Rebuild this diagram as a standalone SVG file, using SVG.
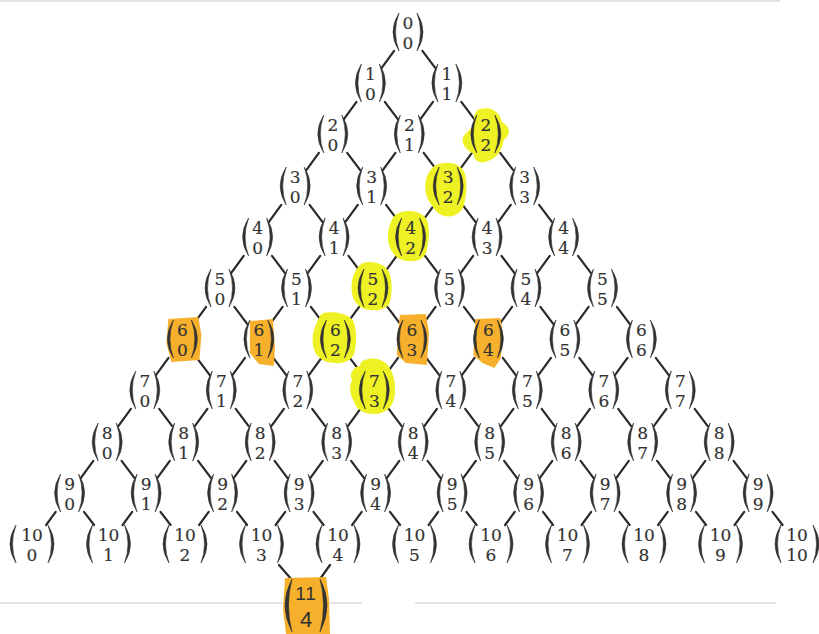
<svg xmlns="http://www.w3.org/2000/svg" width="819" height="634" viewBox="0 0 819 634">
<style>
.p{fill:#333;stroke:#333;stroke-width:0.6}
.d{font-family:"DejaVu Serif","Liberation Serif",serif;font-size:17px;fill:#333;stroke:#333;stroke-width:0.15;text-anchor:middle}
.t{transform:translateY(-3.5px)}
.b{transform:translateY(16.5px)}
.h{font-family:"Liberation Sans","DejaVu Sans",sans-serif;fill:#333;text-anchor:middle}
.e{stroke:#2a2a2a;stroke-width:2.2;stroke-linecap:round;fill:none}
.y{fill:#eef224}
.o{fill:#f6b02c}
.s{stroke:#d9d9d9;stroke-width:1.5}
</style>
<defs>
<g id="p1"><path class="p" d="M-9,-19 Q-21,0 -9,19 Q-16,0 -9,-19 Z"/><path class="p" d="M9,-19 Q21,0 9,19 Q16,0 9,-19 Z"/></g>
<g id="p2"><path class="p" d="M-16,-19 Q-28,0 -16,19 Q-23,0 -16,-19 Z"/><path class="p" d="M16,-19 Q28,0 16,19 Q23,0 16,-19 Z"/></g>
<path id="L" class="e" d="M-13.9,18.9 L-26.3,35.8"/>
<path id="R" class="e" d="M14.4,18.9 L27.2,35.8"/>
<path id="L9" class="e" d="M-13.9,18.9 L-23.5,32"/>
<path id="R9" class="e" d="M14.4,18.9 L24.5,32"/>
</defs>
<rect width="819" height="634" fill="#ffffff"/>
<line class="s" x1="0" y1="603" x2="362" y2="603"/>
<line class="s" x1="415" y1="603" x2="776" y2="603"/>
<line class="s" x1="0" y1="1" x2="780" y2="1"/>

<g id="connectors">
<use href="#L" x="408" y="32"/><use href="#R" x="408" y="32"/>
<use href="#L" x="370.4" y="83"/><use href="#R" x="370.4" y="83"/>
<use href="#L" x="446.9" y="83"/><use href="#R" x="446.9" y="83"/>
<use href="#L" x="332.8" y="134"/><use href="#R" x="332.8" y="134"/>
<use href="#L" x="409.3" y="134"/><use href="#R" x="409.3" y="134"/>
<use href="#L" x="485.8" y="134"/><use href="#R" x="485.8" y="134"/>
<use href="#L" x="295.2" y="186"/><use href="#R" x="295.2" y="186"/>
<use href="#L" x="371.7" y="186"/><use href="#R" x="371.7" y="186"/>
<use href="#L" x="448.2" y="186"/><use href="#R" x="448.2" y="186"/>
<use href="#L" x="524.7" y="186"/><use href="#R" x="524.7" y="186"/>
<use href="#L" x="257.6" y="237"/><use href="#R" x="257.6" y="237"/>
<use href="#L" x="334.1" y="237"/><use href="#R" x="334.1" y="237"/>
<use href="#L" x="410.6" y="237"/><use href="#R" x="410.6" y="237"/>
<use href="#L" x="487.1" y="237"/><use href="#R" x="487.1" y="237"/>
<use href="#L" x="563.6" y="237"/><use href="#R" x="563.6" y="237"/>
<use href="#L" x="220" y="288"/><use href="#R" x="220" y="288"/>
<use href="#L" x="296.5" y="288"/><use href="#R" x="296.5" y="288"/>
<use href="#L" x="373" y="288"/><use href="#R" x="373" y="288"/>
<use href="#L" x="449.5" y="288"/><use href="#R" x="449.5" y="288"/>
<use href="#L" x="526" y="288"/><use href="#R" x="526" y="288"/>
<use href="#L" x="602.5" y="288"/><use href="#R" x="602.5" y="288"/>
<use href="#L" x="182.4" y="339"/><use href="#R" x="182.4" y="339"/>
<use href="#L" x="258.9" y="339"/><use href="#R" x="258.9" y="339"/>
<use href="#L" x="335.4" y="339"/><use href="#R" x="335.4" y="339"/>
<use href="#L" x="411.9" y="339"/><use href="#R" x="411.9" y="339"/>
<use href="#L" x="488.4" y="339"/><use href="#R" x="488.4" y="339"/>
<use href="#L" x="564.9" y="339"/><use href="#R" x="564.9" y="339"/>
<use href="#L" x="641.4" y="339"/><use href="#R" x="641.4" y="339"/>
<use href="#L" x="144.8" y="390"/><use href="#R" x="144.8" y="390"/>
<use href="#L" x="221.3" y="390"/><use href="#R" x="221.3" y="390"/>
<use href="#L" x="297.8" y="390"/><use href="#R" x="297.8" y="390"/>
<use href="#L" x="374.3" y="390"/><use href="#R" x="374.3" y="390"/>
<use href="#L" x="450.8" y="390"/><use href="#R" x="450.8" y="390"/>
<use href="#L" x="527.3" y="390"/><use href="#R" x="527.3" y="390"/>
<use href="#L" x="603.8" y="390"/><use href="#R" x="603.8" y="390"/>
<use href="#L" x="680.3" y="390"/><use href="#R" x="680.3" y="390"/>
<use href="#L" x="107.2" y="442"/><use href="#R" x="107.2" y="442"/>
<use href="#L" x="183.7" y="442"/><use href="#R" x="183.7" y="442"/>
<use href="#L" x="260.2" y="442"/><use href="#R" x="260.2" y="442"/>
<use href="#L" x="336.7" y="442"/><use href="#R" x="336.7" y="442"/>
<use href="#L" x="413.2" y="442"/><use href="#R" x="413.2" y="442"/>
<use href="#L" x="489.7" y="442"/><use href="#R" x="489.7" y="442"/>
<use href="#L" x="566.2" y="442"/><use href="#R" x="566.2" y="442"/>
<use href="#L" x="642.7" y="442"/><use href="#R" x="642.7" y="442"/>
<use href="#L" x="719.2" y="442"/><use href="#R" x="719.2" y="442"/>
<use href="#L9" x="69.6" y="493"/><use href="#R9" x="69.6" y="493"/>
<use href="#L9" x="146.1" y="493"/><use href="#R9" x="146.1" y="493"/>
<use href="#L9" x="222.6" y="493"/><use href="#R9" x="222.6" y="493"/>
<use href="#L9" x="299.1" y="493"/><use href="#R9" x="299.1" y="493"/>
<use href="#L9" x="375.6" y="493"/><use href="#R9" x="375.6" y="493"/>
<use href="#L9" x="452.1" y="493"/><use href="#R9" x="452.1" y="493"/>
<use href="#L9" x="528.6" y="493"/><use href="#R9" x="528.6" y="493"/>
<use href="#L9" x="605.1" y="493"/><use href="#R9" x="605.1" y="493"/>
<use href="#L9" x="681.6" y="493"/><use href="#R9" x="681.6" y="493"/>
<use href="#L9" x="758.1" y="493"/><use href="#R9" x="758.1" y="493"/>
<line class="e" x1="279" y1="565" x2="292" y2="580"/>
<line class="e" x1="330" y1="565" x2="320" y2="579"/>
</g>

<g id="b0_0" transform="translate(408,32)"><use href="#p1"/><text class="d" y="-3.5">0</text><text class="d" y="16.5">0</text></g>

<g id="b1_0" transform="translate(370.4,83)"><use href="#p1"/><text class="d" y="-3.5">1</text><text class="d" y="16.5">0</text></g>
<g id="b1_1" transform="translate(446.9,83)"><use href="#p1"/><text class="d" y="-3.5">1</text><text class="d" y="16.5">1</text></g>

<g id="b2_0" transform="translate(332.8,134)"><use href="#p1"/><text class="d" y="-3.5">2</text><text class="d" y="16.5">0</text></g>
<g id="b2_1" transform="translate(409.3,134)"><use href="#p1"/><text class="d" y="-3.5">2</text><text class="d" y="16.5">1</text></g>
<g id="b2_2" transform="translate(485.8,134)"><path class="y" d="M-6,-25 C6,-28 14,-22 16,-12 C24,-8 26,0 18,6 C16,16 12,24 2,27 C-4,30 -12,28 -12,20 C-20,16 -26,8 -22,2 C-18,-4 -12,-6 -12,-12 C-12,-20 -10,-24 -6,-25 Z"/><use href="#p1"/><text class="d" y="-3.5">2</text><text class="d" y="16.5">2</text></g>

<g id="b3_0" transform="translate(295.2,186)"><use href="#p1"/><text class="d" y="-3.5">3</text><text class="d" y="16.5">0</text></g>
<g id="b3_1" transform="translate(371.7,186)"><use href="#p1"/><text class="d" y="-3.5">3</text><text class="d" y="16.5">1</text></g>
<g id="b3_2" transform="translate(448.2,186)"><path class="y" d="M-14,-20 C-4,-26 12,-24 16,-14 C20,-4 18,10 16,18 C14,28 4,32 -4,30 C-12,28 -16,20 -20,14 C-24,6 -24,-6 -20,-12 C-18,-16 -16,-18 -14,-20 Z"/><use href="#p1"/><text class="d" y="-3.5">3</text><text class="d" y="16.5">2</text></g>
<g id="b3_3" transform="translate(524.7,186)"><use href="#p1"/><text class="d" y="-3.5">3</text><text class="d" y="16.5">3</text></g>

<g id="b4_0" transform="translate(257.6,237)"><use href="#p1"/><text class="d" y="-3.5">4</text><text class="d" y="16.5">0</text></g>
<g id="b4_1" transform="translate(334.1,237)"><use href="#p1"/><text class="d" y="-3.5">4</text><text class="d" y="16.5">1</text></g>
<g id="b4_2" transform="translate(410.6,237)"><path class="y" d="M-12,-24 C-2,-28 10,-26 16,-18 C20,-8 18,6 16,14 C14,22 6,25 -2,24 C-10,24 -16,20 -20,12 C-24,4 -23,-8 -20,-14 C-18,-20 -16,-22 -12,-24 Z"/><use href="#p1"/><text class="d" y="-3.5">4</text><text class="d" y="16.5">2</text></g>
<g id="b4_3" transform="translate(487.1,237)"><use href="#p1"/><text class="d" y="-3.5">4</text><text class="d" y="16.5">3</text></g>
<g id="b4_4" transform="translate(563.6,237)"><use href="#p1"/><text class="d" y="-3.5">4</text><text class="d" y="16.5">4</text></g>

<g id="b5_0" transform="translate(220,288)"><use href="#p1"/><text class="d" y="-3.5">5</text><text class="d" y="16.5">0</text></g>
<g id="b5_1" transform="translate(296.5,288)"><use href="#p1"/><text class="d" y="-3.5">5</text><text class="d" y="16.5">1</text></g>
<g id="b5_2" transform="translate(373,288)"><path class="y" d="M-10,-25 C0,-28 12,-24 16,-16 C20,-6 19,6 17,14 C14,21 6,23 -2,22 C-10,22 -16,18 -20,10 C-22,2 -22,-8 -19,-14 C-16,-20 -14,-23 -10,-25 Z"/><use href="#p1"/><text class="d" y="-3.5">5</text><text class="d" y="16.5">2</text></g>
<g id="b5_3" transform="translate(449.5,288)"><use href="#p1"/><text class="d" y="-3.5">5</text><text class="d" y="16.5">3</text></g>
<g id="b5_4" transform="translate(526,288)"><use href="#p1"/><text class="d" y="-3.5">5</text><text class="d" y="16.5">4</text></g>
<g id="b5_5" transform="translate(602.5,288)"><use href="#p1"/><text class="d" y="-3.5">5</text><text class="d" y="16.5">5</text></g>

<g id="b6_0" transform="translate(182.4,339)"><path class="o" d="M-14,-20 L16,-22 L19,-4 L17,21 L-11,23 L-16,4 Z"/><use href="#p1"/><text class="d" y="-3.5">6</text><text class="d" y="16.5">0</text></g>
<g id="b6_1" transform="translate(258.9,339)"><path class="o" d="M-9,-18 L14,-20 L16,8 L15,27 L0,25 L-9,14 Z"/><use href="#p1"/><text class="d" y="-3.5">6</text><text class="d" y="16.5">1</text></g>
<g id="b6_2" transform="translate(335.4,339)"><path class="y" d="M-12,-26 C-2,-28 12,-26 18,-18 C22,-8 21,6 19,14 C16,22 8,25 0,24 C-10,24 -16,20 -20,14 C-23,8 -24,-2 -21,-10 C-18,-18 -16,-24 -12,-26 Z"/><use href="#p1"/><text class="d" y="-3.5">6</text><text class="d" y="16.5">2</text></g>
<g id="b6_3" transform="translate(411.9,339)"><path class="o" d="M-12,-24 L14,-25 L17,-6 L15,26 L-6,24 L-15,16 L-14,-6 Z"/><use href="#p1"/><text class="d" y="-3.5">6</text><text class="d" y="16.5">3</text></g>
<g id="b6_4" transform="translate(488.4,339)"><path class="o" d="M-13,-20 L12,-21 L15,-2 L12,20 L6,29 L-6,24 L-15,16 L-14,-4 Z"/><use href="#p1"/><text class="d" y="-3.5">6</text><text class="d" y="16.5">4</text></g>
<g id="b6_5" transform="translate(564.9,339)"><use href="#p1"/><text class="d" y="-3.5">6</text><text class="d" y="16.5">5</text></g>
<g id="b6_6" transform="translate(641.4,339)"><use href="#p1"/><text class="d" y="-3.5">6</text><text class="d" y="16.5">6</text></g>

<g id="b7_0" transform="translate(144.8,390)"><use href="#p1"/><text class="d" y="-3.5">7</text><text class="d" y="16.5">0</text></g>
<g id="b7_1" transform="translate(221.3,390)"><use href="#p1"/><text class="d" y="-3.5">7</text><text class="d" y="16.5">1</text></g>
<g id="b7_2" transform="translate(297.8,390)"><use href="#p1"/><text class="d" y="-3.5">7</text><text class="d" y="16.5">2</text></g>
<g id="b7_3" transform="translate(374.3,390)"><path class="y" d="M-10,-30 C0,-34 10,-30 14,-24 C20,-16 22,-4 20,8 C18,18 10,24 0,24 C-10,24 -18,20 -20,12 C-24,6 -26,-4 -22,-10 C-26,-16 -20,-24 -14,-24 C-14,-28 -12,-29 -10,-30 Z"/><use href="#p1"/><text class="d" y="-3.5">7</text><text class="d" y="16.5">3</text></g>
<g id="b7_4" transform="translate(450.8,390)"><use href="#p1"/><text class="d" y="-3.5">7</text><text class="d" y="16.5">4</text></g>
<g id="b7_5" transform="translate(527.3,390)"><use href="#p1"/><text class="d" y="-3.5">7</text><text class="d" y="16.5">5</text></g>
<g id="b7_6" transform="translate(603.8,390)"><use href="#p1"/><text class="d" y="-3.5">7</text><text class="d" y="16.5">6</text></g>
<g id="b7_7" transform="translate(680.3,390)"><use href="#p1"/><text class="d" y="-3.5">7</text><text class="d" y="16.5">7</text></g>

<g id="b8_0" transform="translate(107.2,442)"><use href="#p1"/><text class="d" y="-3.5">8</text><text class="d" y="16.5">0</text></g>
<g id="b8_1" transform="translate(183.7,442)"><use href="#p1"/><text class="d" y="-3.5">8</text><text class="d" y="16.5">1</text></g>
<g id="b8_2" transform="translate(260.2,442)"><use href="#p1"/><text class="d" y="-3.5">8</text><text class="d" y="16.5">2</text></g>
<g id="b8_3" transform="translate(336.7,442)"><use href="#p1"/><text class="d" y="-3.5">8</text><text class="d" y="16.5">3</text></g>
<g id="b8_4" transform="translate(413.2,442)"><use href="#p1"/><text class="d" y="-3.5">8</text><text class="d" y="16.5">4</text></g>
<g id="b8_5" transform="translate(489.7,442)"><use href="#p1"/><text class="d" y="-3.5">8</text><text class="d" y="16.5">5</text></g>
<g id="b8_6" transform="translate(566.2,442)"><use href="#p1"/><text class="d" y="-3.5">8</text><text class="d" y="16.5">6</text></g>
<g id="b8_7" transform="translate(642.7,442)"><use href="#p1"/><text class="d" y="-3.5">8</text><text class="d" y="16.5">7</text></g>
<g id="b8_8" transform="translate(719.2,442)"><use href="#p1"/><text class="d" y="-3.5">8</text><text class="d" y="16.5">8</text></g>

<g id="b9_0" transform="translate(69.6,493)"><use href="#p1"/><text class="d" y="-3.5">9</text><text class="d" y="16.5">0</text></g>
<g id="b9_1" transform="translate(146.1,493)"><use href="#p1"/><text class="d" y="-3.5">9</text><text class="d" y="16.5">1</text></g>
<g id="b9_2" transform="translate(222.6,493)"><use href="#p1"/><text class="d" y="-3.5">9</text><text class="d" y="16.5">2</text></g>
<g id="b9_3" transform="translate(299.1,493)"><use href="#p1"/><text class="d" y="-3.5">9</text><text class="d" y="16.5">3</text></g>
<g id="b9_4" transform="translate(375.6,493)"><use href="#p1"/><text class="d" y="-3.5">9</text><text class="d" y="16.5">4</text></g>
<g id="b9_5" transform="translate(452.1,493)"><use href="#p1"/><text class="d" y="-3.5">9</text><text class="d" y="16.5">5</text></g>
<g id="b9_6" transform="translate(528.6,493)"><use href="#p1"/><text class="d" y="-3.5">9</text><text class="d" y="16.5">6</text></g>
<g id="b9_7" transform="translate(605.1,493)"><use href="#p1"/><text class="d" y="-3.5">9</text><text class="d" y="16.5">7</text></g>
<g id="b9_8" transform="translate(681.6,493)"><use href="#p1"/><text class="d" y="-3.5">9</text><text class="d" y="16.5">8</text></g>
<g id="b9_9" transform="translate(758.1,493)"><use href="#p1"/><text class="d" y="-3.5">9</text><text class="d" y="16.5">9</text></g>

<g id="b10_0" transform="translate(32,544)"><use href="#p2"/><text class="d" y="-3.5">10</text><text class="d" y="16.5">0</text></g>
<g id="b10_1" transform="translate(108.5,544)"><use href="#p2"/><text class="d" y="-3.5">10</text><text class="d" y="16.5">1</text></g>
<g id="b10_2" transform="translate(185,544)"><use href="#p2"/><text class="d" y="-3.5">10</text><text class="d" y="16.5">2</text></g>
<g id="b10_3" transform="translate(261.5,544)"><use href="#p2"/><text class="d" y="-3.5">10</text><text class="d" y="16.5">3</text></g>
<g id="b10_4" transform="translate(338,544)"><use href="#p2"/><text class="d" y="-3.5">10</text><text class="d" y="16.5">4</text></g>
<g id="b10_5" transform="translate(414.5,544)"><use href="#p2"/><text class="d" y="-3.5">10</text><text class="d" y="16.5">5</text></g>
<g id="b10_6" transform="translate(491,544)"><use href="#p2"/><text class="d" y="-3.5">10</text><text class="d" y="16.5">6</text></g>
<g id="b10_7" transform="translate(567.5,544)"><use href="#p2"/><text class="d" y="-3.5">10</text><text class="d" y="16.5">7</text></g>
<g id="b10_8" transform="translate(644,544)"><use href="#p2"/><text class="d" y="-3.5">10</text><text class="d" y="16.5">8</text></g>
<g id="b10_9" transform="translate(720.5,544)"><use href="#p2"/><text class="d" y="-3.5">10</text><text class="d" y="16.5">9</text></g>
<g id="b10_10" transform="translate(797,544)"><use href="#p2"/><text class="d" y="-3.5">10</text><text class="d" y="16.5">10</text></g>

<g id="b11_4" transform="translate(306,605)">
<path class="o" d="M-21,-27 L20,-28 L23,-6 L24,29 L-20,29 L-23,4 Z"/>
<path class="p" d="M-14,-26 Q-28,0 -14,27 Q-21,0 -14,-26 Z"/>
<path class="p" d="M14,-26 Q28,0 14,27 Q21,0 14,-26 Z"/>
<text class="h" y="-5" font-size="19" letter-spacing="1">11</text>
<text class="h" y="22" font-size="22">4</text>
</g>
</svg>
